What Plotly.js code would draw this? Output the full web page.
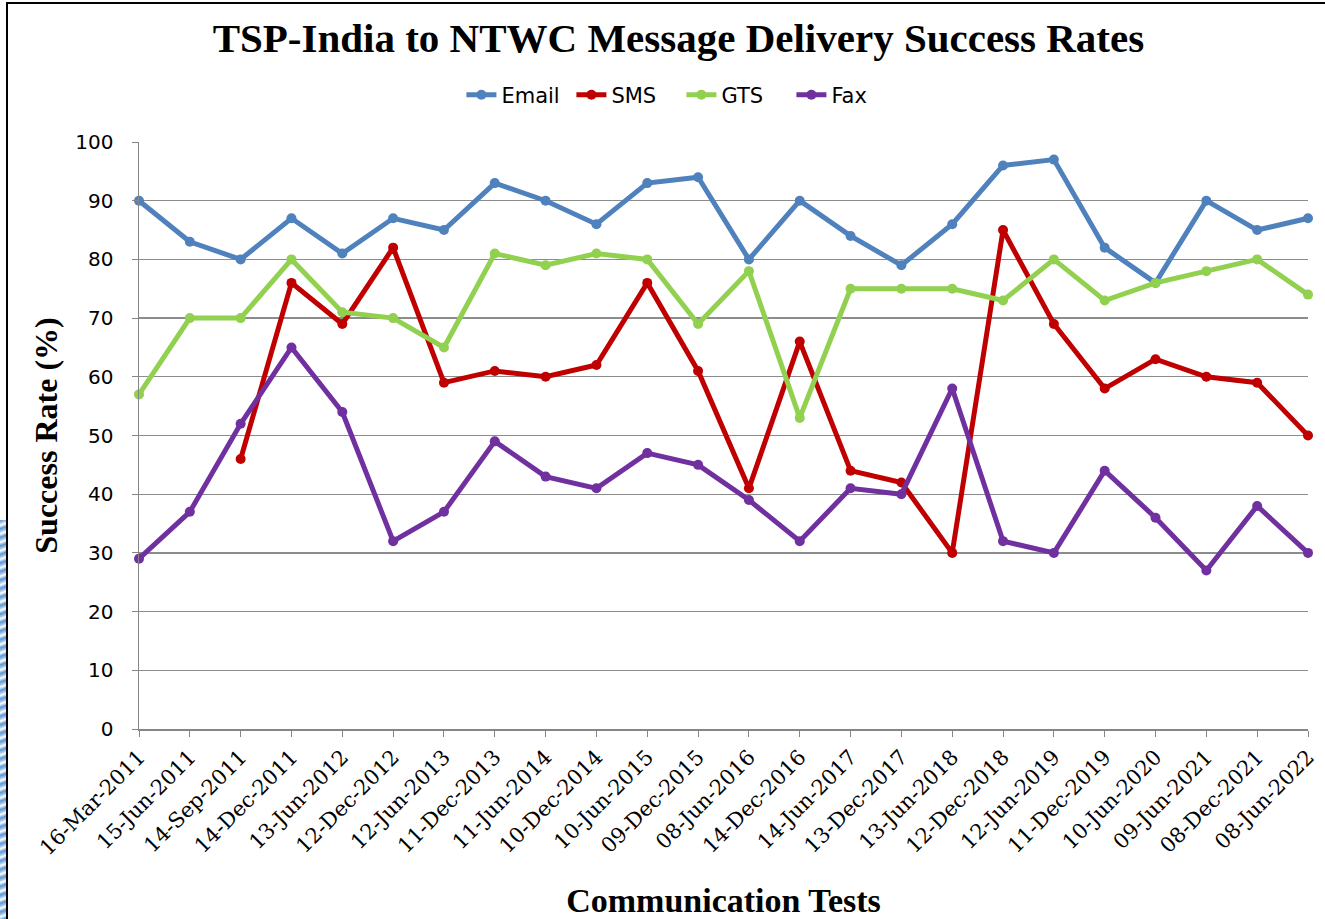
<!DOCTYPE html>
<html>
<head>
<meta charset="utf-8">
<script src="https://cdn.plot.ly/plotly-3.0.1.min.js"></script>
<style>
  html, body { margin: 0; padding: 0; background: #ffffff; }
  #wrap { position: relative; width: 1325px; height: 919px; overflow: hidden; background: #ffffff; }
  #chart { position: absolute; left: 0; top: 0; width: 1325px; height: 919px; }
  #frame { position: absolute; left: 6px; top: 2px; width: 1340px; height: 940px; border: 2px solid #000; pointer-events: none; box-sizing: border-box; }
  #deco { position: absolute; left: 0; top: 520px; width: 6px; height: 399px;
          background: repeating-linear-gradient(160deg, #2f78c4 0px, #8fb8e6 3px, #ffffff 5px, #4a8fd6 8px); opacity: 0.8; }
</style>
</head>
<body>
<div id="wrap">
  <div id="chart"></div>
  <div id="deco"></div>
  <div id="frame"></div>
</div>
<script>
const categories = ["16-Mar-2011","15-Jun-2011","14-Sep-2011","14-Dec-2011","13-Jun-2012","12-Dec-2012",
  "12-Jun-2013","11-Dec-2013","11-Jun-2014","10-Dec-2014","10-Jun-2015","09-Dec-2015","08-Jun-2016",
  "14-Dec-2016","14-Jun-2017","13-Dec-2017","13-Jun-2018","12-Dec-2018","12-Jun-2019","11-Dec-2019",
  "10-Jun-2020","09-Jun-2021","08-Dec-2021","08-Jun-2022"];
const email = [90,83,80,87,81,87,85,93,90,86,93,94,80,90,84,79,86,96,97,82,76,90,85,87];
const sms   = [null,null,46,76,69,82,59,61,60,62,76,61,41,66,44,42,30,85,69,58,63,60,59,50];
const gts   = [57,70,70,80,71,70,65,81,79,81,80,69,78,53,75,75,75,73,80,73,76,78,80,74];
const fax   = [29,37,52,65,54,32,37,49,43,41,47,45,39,32,41,40,58,32,30,44,36,27,38,30];
const seriesNames = ["Email","SMS","GTS","Fax"];
const seriesColors = ["#4F81BD","#C00000","#92D050","#7030A0"];
const seriesValues = [email, sms, gts, fax];

const xIdx = categories.map((c, i) => i);
const traces = seriesValues.map((vals, k) => ({
  type: "scatter",
  mode: "lines+markers",
  name: seriesNames[k],
  x: xIdx,
  y: vals,
  connectgaps: false,
  cliponaxis: false,
  line: { color: seriesColors[k], width: 5 },
  marker: { color: seriesColors[k], size: 10, symbol: "circle" }
}));

const layout = {
  width: 1325,
  height: 919,
  paper_bgcolor: "rgba(0,0,0,0)",
  plot_bgcolor: "#ffffff",
  margin: { l: 139, r: 17, t: 142, b: 190 },
  showlegend: true,
  title: {
    text: "<b>TSP-India to NTWC Message Delivery Success Rates</b>",
    font: { family: "Liberation Serif, serif", size: 41, color: "#000000" },
    x: 0.512, xanchor: "center",
    y: 1 - 38 / 919, yanchor: "middle", yref: "container"
  },
  legend: {
    orientation: "h",
    x: 0.464, xanchor: "center",
    y: 1.08, yanchor: "middle",
    font: { family: "DejaVu Sans, sans-serif", size: 21, color: "#000000" },
    itemwidth: 30,
    entrywidth: 65,
    entrywidthmode: "pixels",
    tracegroupgap: 0
  },
  xaxis: {
    type: "linear",
    range: [0, categories.length - 1],
    tickmode: "array",
    tickvals: xIdx,
    ticktext: categories,
    tickangle: -45,
    tickfont: { family: "DejaVu Serif, serif", size: 21, color: "#000000" },
    ticks: "outside",
    ticklen: 6,
    tickcolor: "#868686",
    showline: true,
    linecolor: "#868686",
    linewidth: 1.5,
    showgrid: false,
    zeroline: false,
    automargin: false,
    title: {
      text: "<b>Communication Tests</b>",
      font: { family: "Liberation Serif, serif", size: 34, color: "#000000" },
      standoff: 30
    }
  },
  yaxis: {
    range: [0, 100],
    dtick: 10,
    tick0: 0,
    tickfont: { family: "DejaVu Sans, sans-serif", size: 20, color: "#000000" },
    ticks: "outside",
    ticklen: 6,
    tickcolor: "#868686",
    ticklabelstandoff: 14,
    showline: true,
    linecolor: "#868686",
    linewidth: 1.5,
    showgrid: true,
    gridcolor: "#8c8c8c",
    gridwidth: 1.3,
    zeroline: false,
    automargin: false,
    title: {
      text: "<b>Success Rate (%)</b>",
      font: { family: "Liberation Serif, serif", size: 32, color: "#000000" },
      standoff: 8
    }
  }
};

Plotly.newPlot("chart", traces, layout, { displayModeBar: false, staticPlot: true });
</script>
</body>
</html>
